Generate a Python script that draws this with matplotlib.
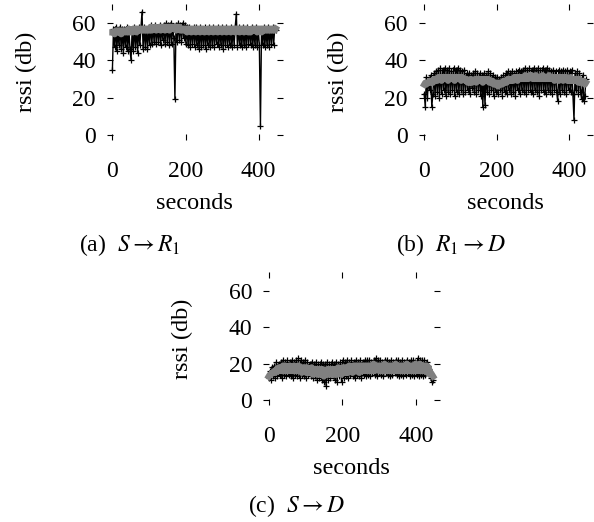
import numpy as np
import matplotlib
matplotlib.use("Agg")
import matplotlib.pyplot as plt

plt.rcParams['font.family'] = 'serif'
plt.rcParams['font.serif'] = ['Liberation Serif', 'DejaVu Serif']
plt.rcParams['mathtext.fontset'] = 'stix'

# sample times (seconds), one reading every 3 s
t = np.arange(0, 450, 3)

# S -> R1 : raw rssi and running average
raw_a = [35, 57, 47, 58, 45, 56, 48, 58, 46, 57,
         44, 57, 47, 58, 45, 57, 46, 40, 56, 45,
         58, 47, 57, 44, 58, 48, 57, 66, 46, 58,
         47, 57, 46, 58, 48, 59, 49, 58, 50, 59,
         49, 58, 50, 59, 48, 58, 51, 59, 49, 60,
         50, 59, 48, 60, 49, 58, 52, 19, 59, 50,
         60, 51, 59, 50, 60, 52, 59, 49, 58, 48,
         58, 47, 57, 49, 58, 47, 58, 48, 57, 46,
         58, 47, 57, 48, 58, 46, 57, 48, 58, 47,
         57, 48, 58, 47, 57, 49, 58, 47, 57, 48,
         58, 46, 57, 48, 58, 47, 57, 48, 58, 47,
         57, 48, 58, 65, 47, 58, 48, 57, 47, 58,
         48, 57, 47, 58, 49, 57, 48, 58, 47, 57,
         48, 58, 47, 57, 48, 5, 57, 48, 58, 47,
         57, 48, 58, 47, 57, 49, 58, 48, 57, 56]
avg_a = [55, 55, 54, 56, 55, 56, 55, 56, 54, 56,
         55, 56, 55, 56, 55, 57, 55, 56, 55, 57,
         56, 57, 55, 57, 56, 57, 56, 57, 56, 57,
         56, 57, 56, 57, 56, 58, 56, 57, 57, 58,
         56, 57, 57, 58, 56, 58, 57, 58, 56, 58,
         57, 58, 56, 58, 57, 58, 57, 58, 56, 58,
         57, 58, 56, 57, 56, 57, 56, 57, 55, 57,
         56, 57, 55, 57, 56, 57, 55, 57, 56, 57,
         55, 57, 56, 57, 55, 56, 56, 57, 55, 57,
         56, 57, 55, 57, 56, 57, 55, 57, 56, 57,
         55, 57, 56, 57, 55, 57, 56, 57, 55, 57,
         56, 57, 55, 57, 56, 57, 55, 57, 56, 57,
         55, 57, 56, 57, 55, 56, 55, 57, 56, 57,
         56, 57, 55, 57, 56, 57, 55, 57, 56, 57,
         56, 57, 56, 57, 56, 57, 56, 57, 56, 57]

# R1 -> D
raw_b = [22, 15, 31, 20, 30, 24, 32, 15, 22, 33,
         21, 34, 23, 35, 20, 36, 22, 35, 24, 36,
         21, 35, 23, 36, 22, 34, 24, 36, 21, 35,
         23, 36, 22, 35, 24, 34, 22, 35, 23, 33,
         24, 33, 22, 32, 25, 33, 23, 34, 22, 33,
         24, 33, 21, 32, 15, 33, 16, 32, 23, 34,
         22, 33, 24, 32, 21, 31, 23, 31, 22, 30,
         24, 31, 21, 32, 23, 33, 22, 34, 24, 33,
         22, 34, 23, 33, 21, 34, 24, 35, 22, 34,
         24, 35, 23, 36, 22, 35, 24, 36, 23, 35,
         22, 36, 24, 35, 23, 36, 21, 35, 24, 36,
         23, 35, 22, 36, 24, 35, 23, 34, 22, 35,
         24, 34, 23, 18, 35, 22, 34, 24, 35, 23,
         34, 22, 35, 24, 34, 23, 35, 22, 8, 33,
         24, 34, 22, 33, 23, 19, 32, 18, 21, 30]
avg_b = [27, 28, 27, 28, 28, 29, 28, 29, 28, 30,
         29, 30, 29, 31, 30, 31, 29, 31, 30, 31,
         30, 31, 29, 31, 30, 31, 30, 31, 29, 31,
         30, 31, 30, 31, 29, 31, 30, 30, 29, 30,
         28, 29, 28, 30, 28, 29, 29, 30, 28, 30,
         29, 30, 29, 30, 28, 30, 29, 30, 29, 30,
         28, 29, 28, 29, 27, 28, 27, 28, 26, 28,
         27, 28, 27, 29, 28, 29, 28, 30, 29, 30,
         29, 30, 29, 31, 30, 31, 29, 31, 30, 31,
         30, 31, 30, 32, 30, 31, 30, 32, 31, 32,
         30, 31, 30, 32, 30, 31, 30, 31, 30, 32,
         30, 31, 30, 31, 30, 32, 30, 31, 30, 31,
         29, 31, 30, 31, 29, 31, 30, 31, 29, 31,
         30, 31, 29, 30, 29, 31, 29, 30, 29, 30,
         29, 30, 28, 30, 28, 29, 28, 29, 27, 28]

# S -> D
raw_c = [12, 16, 11, 18, 13, 19, 12, 21, 13, 20,
         14, 21, 12, 22, 14, 21, 13, 22, 14, 21,
         13, 22, 12, 21, 14, 22, 13, 23, 12, 22,
         14, 21, 13, 22, 12, 21, 14, 20, 13, 21,
         12, 20, 13, 21, 11, 20, 12, 21, 11, 20,
         10, 20, 8, 21, 11, 20, 12, 21, 13, 20,
         11, 21, 10, 20, 13, 21, 10, 22, 12, 21,
         13, 22, 12, 21, 14, 22, 13, 21, 12, 22,
         14, 21, 13, 22, 12, 21, 14, 22, 13, 22,
         14, 22, 13, 21, 15, 22, 14, 23, 13, 22,
         15, 22, 14, 21, 13, 22, 15, 22, 14, 21,
         13, 22, 14, 21, 15, 22, 14, 22, 13, 21,
         14, 22, 13, 21, 14, 22, 15, 21, 13, 22,
         14, 22, 13, 21, 14, 23, 13, 22, 14, 22,
         13, 22, 14, 21, 19, 17, 14, 12, 10, 11]
avg_c = [13, 14, 14, 15, 15, 16, 15, 17, 16, 18,
         16, 18, 16, 19, 16, 19, 16, 18, 16, 19,
         16, 18, 16, 19, 16, 18, 16, 19, 16, 18,
         15, 18, 16, 18, 15, 18, 15, 17, 15, 18,
         14, 17, 15, 17, 14, 17, 14, 17, 14, 17,
         13, 16, 14, 17, 14, 17, 14, 17, 14, 17,
         14, 17, 14, 18, 15, 17, 14, 18, 15, 18,
         15, 18, 15, 19, 16, 18, 15, 19, 16, 19,
         16, 19, 15, 19, 16, 19, 16, 19, 16, 19,
         16, 19, 16, 19, 16, 20, 16, 19, 17, 19,
         16, 19, 16, 19, 16, 20, 16, 19, 16, 19,
         16, 19, 16, 19, 16, 20, 16, 19, 16, 19,
         16, 19, 16, 19, 16, 20, 16, 19, 16, 19,
         16, 19, 16, 20, 16, 19, 16, 20, 16, 19,
         16, 19, 16, 19, 15, 18, 14, 15, 14, 13]

xticks = [0, 200, 400]
yticks = [0, 20, 40, 60]

fig = plt.figure(figsize=(5.94, 5.22), dpi=100)

panels = [
    ([0.180, 0.732, 0.296, 0.261], raw_a, avg_a),
    ([0.705, 0.732, 0.293, 0.261], raw_b, avg_b),
    ([0.443, 0.224, 0.298, 0.255], raw_c, avg_c),
]

for rect, raw, avg in panels:
    ax = fig.add_axes(rect)
    ax.plot(t, raw, color='black', lw=1.0, marker='+', ms=5, mew=0.9)
    ax.plot(t, avg, color='#808080', lw=4.5, solid_joinstyle='round')
    ax.set_xlim(-15, 466)
    ax.set_ylim(-2.7, 70.4)
    ax.set_xticks(xticks)
    ax.set_yticks(yticks)
    for s in ax.spines.values():
        s.set_visible(False)
    ax.tick_params(direction='in', length=4, width=0.8, top=True, right=True,
                   labelsize=17, pad=8)
    ax.tick_params(axis='x', pad=15)
    ax.set_xlabel('seconds', fontsize=17.5, labelpad=8)
    ax.set_ylabel('rssi (db)', fontsize=17.5)
    ax.yaxis.set_label_coords(-70 / (rect[2] * 594), 0.5)

fig.text(0.218, 0.530, r'(a)  $S \rightarrow R_1$', fontsize=17, ha='center', va='center')
fig.text(0.760, 0.530, r'(b)  $R_1 \rightarrow D$', fontsize=17, ha='center', va='center')
fig.text(0.499, 0.030, r'(c)  $S \rightarrow D$', fontsize=17, ha='center', va='center')

fig.savefig('out.png', dpi=100)
